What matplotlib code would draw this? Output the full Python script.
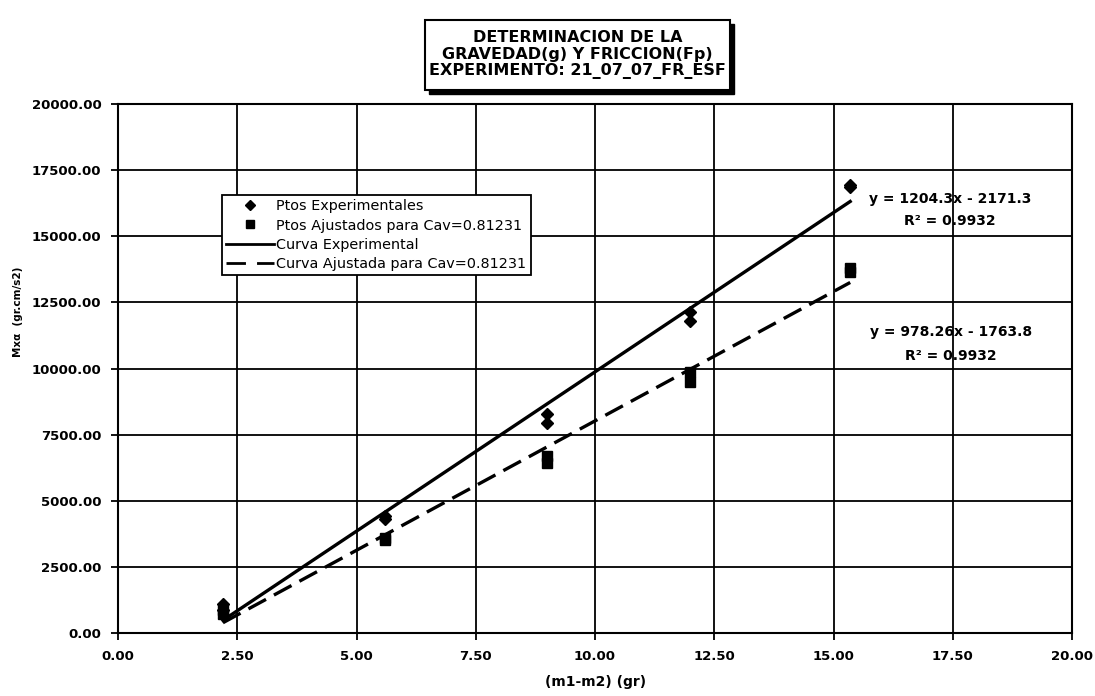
import matplotlib
matplotlib.use("Agg")
import matplotlib.pyplot as plt
from matplotlib.patches import Rectangle
from matplotlib.lines import Line2D
import numpy as np

plt.rcParams['font.family'] = ['DejaVu Sans']

# ---- data ----
x_exp = [2.2, 2.2, 5.6, 5.6, 9.0, 9.0, 12.0, 12.0, 15.35, 15.35]
y_exp = [1100, 880, 4420, 4300, 8270, 7950, 12150, 11800, 16950, 16850]
x_adj = [2.2, 2.2, 5.6, 5.6, 9.0, 9.0, 12.0, 12.0, 15.35, 15.35]
y_adj = [880, 720, 3580, 3500, 6700, 6420, 9850, 9500, 13800, 13650]

fit_exp = [1204.3, -2171.3]   # slope, intercept (Curva Experimental)
fit_adj = [978.26, -1763.8]   # slope, intercept (Curva Ajustada)
r2_exp = 0.9932
r2_adj = 0.9932

x_ticks = [0, 2.5, 5, 7.5, 10, 12.5, 15, 17.5, 20]
y_ticks = [0, 2500, 5000, 7500, 10000, 12500, 15000, 17500, 20000]

title_lines = ["DETERMINACION DE LA", "GRAVEDAD(g) Y FRICCION(Fp)",
               "EXPERIMENTO: 21_07_07_FR_ESF"]
legend_labels = ["Ptos Experimentales", "Ptos Ajustados para Cav=0.81231",
                 "Curva Experimental", "Curva Ajustada para Cav=0.81231"]

W, H = 1095, 696
fig = plt.figure(figsize=(W / 100, H / 100), dpi=100)
ax = fig.add_axes([118 / W, 1 - 633 / H, 954 / W, 529 / H])

# fitted lines over data range
xs = np.array([min(x_exp), max(x_exp)])
ax.plot(xs, fit_exp[0] * xs + fit_exp[1], color='black', lw=2.4, zorder=3)
xs2 = np.array([min(x_adj), max(x_adj)])
ax.plot(xs2, fit_adj[0] * xs2 + fit_adj[1], color='black', lw=2.4,
        dashes=(6, 2.7), zorder=3)

# points
ax.plot(x_exp, y_exp, linestyle='none', marker='D', markersize=6,
        color='black', zorder=4)
ax.plot(x_adj, y_adj, linestyle='none', marker='s', markersize=6.5,
        color='black', zorder=4)

ax.set_xlim(0, 20)
ax.set_ylim(0, 20000)
ax.set_xticks(x_ticks)
ax.set_yticks(y_ticks)
ax.set_xticklabels([f"{v:.2f}" for v in x_ticks])
ax.set_yticklabels([f"{v:.2f}" for v in y_ticks])
ax.tick_params(direction='out', length=5, width=1.3, color='black',
               labelsize=9.5, pad=7)
for lab in ax.get_xticklabels() + ax.get_yticklabels():
    lab.set_fontweight('bold')
ax.grid(True, color='black', lw=1.3)
ax.set_axisbelow(True)
for s in ax.spines.values():
    s.set_linewidth(1.5)
    s.set_color('black')

ax.set_xlabel("(m1-m2) (gr)", fontsize=10, fontweight='bold')
ax.xaxis.label.set_va('center')
ax.xaxis.set_label_coords(0.501, -0.093)
ax.set_ylabel("Mxα  (gr.cm/s2)", fontsize=7.5, fontweight='bold')
ax.yaxis.label.set_va('center')
ax.yaxis.set_label_coords(-0.105, 0.607)

# equations
ax.text(17.44, 15990, f"y = {fit_exp[0]:.1f}x - {abs(fit_exp[1]):.1f}\nR² = {r2_exp:.4f}",
        ha='center', va='center', fontsize=10, fontweight='bold',
        linespacing=1.8, zorder=5)
ax.text(17.46, 10920, f"y = {fit_adj[0]:.2f}x - {abs(fit_adj[1]):.1f}\nR² = {r2_adj:.4f}",
        ha='center', va='center', fontsize=10, fontweight='bold',
        linespacing=1.9, zorder=5)

# legend
handles = [
    Line2D([], [], linestyle='none', marker='D', markersize=5, color='black'),
    Line2D([], [], linestyle='none', marker='s', markersize=5.5, color='black'),
    Line2D([], [], color='black', lw=2),
    Line2D([], [], color='black', lw=2, dashes=(7, 4)),
]
leg = ax.legend(handles, legend_labels, loc='upper left',
                bbox_to_anchor=(0.109, 0.828), fontsize=10.4, frameon=True,
                fancybox=False, framealpha=1, edgecolor='black',
                handlelength=3.3, handletextpad=0.15, borderpad=0.3,
                labelspacing=0.36, borderaxespad=0)
leg.get_frame().set_linewidth(1.3)

# title box with shadow
bx0, bx1, by0, by1 = 425, 730, 20, 90
fig.patches.append(Rectangle(((bx0 + 4) / W, 1 - (by1 + 4) / H),
                             (bx1 - bx0) / W, (by1 - by0) / H,
                             transform=fig.transFigure, facecolor='black',
                             edgecolor='black', zorder=1))
fig.patches.append(Rectangle((bx0 / W, 1 - by1 / H), (bx1 - bx0) / W,
                             (by1 - by0) / H, transform=fig.transFigure,
                             facecolor='white', edgecolor='black', lw=1.5,
                             zorder=2))
fig.text((bx0 + bx1) / 2 / W, 1 - 54.5 / H, "\n".join(title_lines),
         ha='center', va='center', fontsize=11.5, fontweight='bold',
         linespacing=1.1, zorder=3)

fig.savefig("out.png", dpi=100)
